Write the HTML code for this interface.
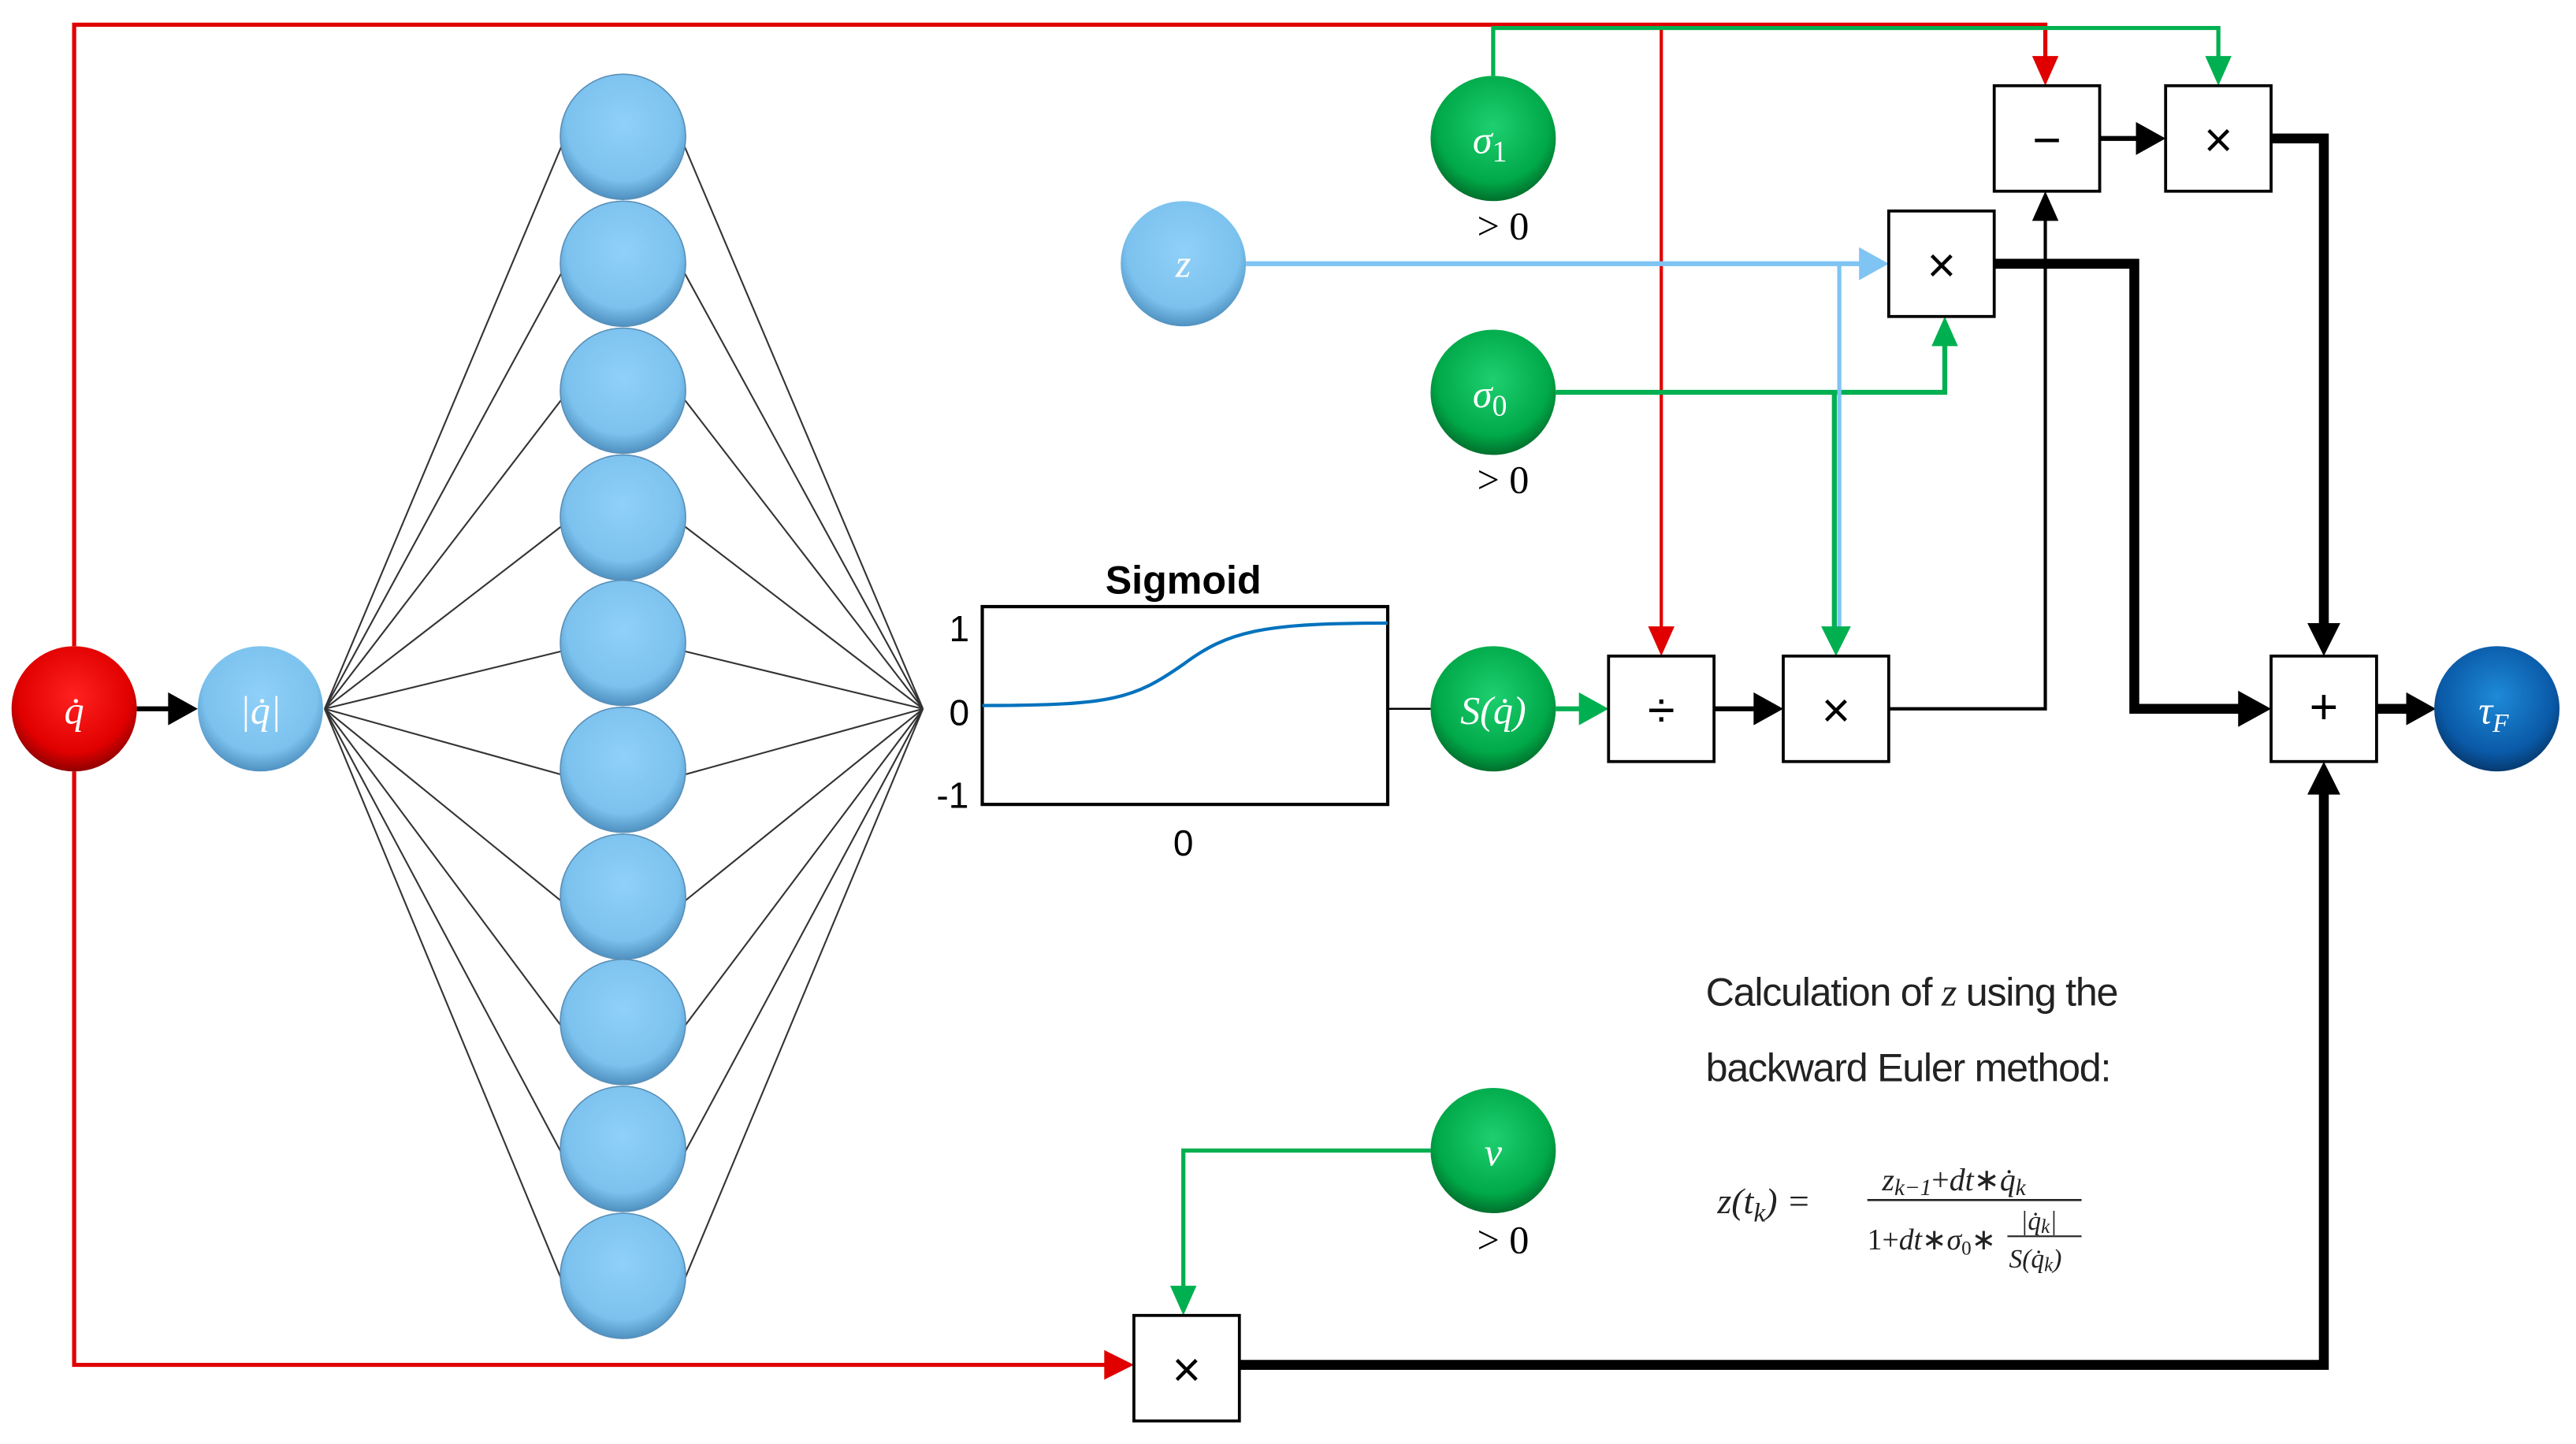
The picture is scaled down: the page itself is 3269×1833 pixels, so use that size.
<!DOCTYPE html>
<html><head><meta charset="utf-8"><style>
html,body{margin:0;padding:0;background:#fff;}
svg{display:block;}
</style></head><body>
<svg width="3269" height="1833" viewBox="0 0 1563 876" preserveAspectRatio="none" xmlns="http://www.w3.org/2000/svg">
<defs>
<radialGradient id="gb" cx="50%" cy="40%" r="60%"><stop offset="0" stop-color="#8fd0f8"/><stop offset="0.75" stop-color="#7cc2ee"/><stop offset="1" stop-color="#4f90c0"/></radialGradient>
<radialGradient id="gg" cx="50%" cy="40%" r="60%"><stop offset="0" stop-color="#1ed070"/><stop offset="0.75" stop-color="#00a848"/><stop offset="1" stop-color="#006f2c"/></radialGradient>
<radialGradient id="gr" cx="50%" cy="40%" r="60%"><stop offset="0" stop-color="#ff2020"/><stop offset="0.75" stop-color="#e00000"/><stop offset="1" stop-color="#900000"/></radialGradient>
<radialGradient id="gd" cx="50%" cy="40%" r="60%"><stop offset="0" stop-color="#1e8ad8"/><stop offset="0.75" stop-color="#0a5aa8"/><stop offset="1" stop-color="#063a70"/></radialGradient>
</defs>
<g fill="none" stroke-linejoin="miter">
<polyline points="45,392 45,15 1241,15 1241,40" stroke="#e00000" stroke-width="2.5"/>
<polyline points="1008,15 1008,384" stroke="#e00000" stroke-width="2"/>
<polyline points="45,468 45,828 674,828" stroke="#e00000" stroke-width="2.5"/>
<polyline points="906,46 906,17 1346,17 1346,40" stroke="#00b050" stroke-width="2.5"/>
<polyline points="944,238 1180,238 1180,206" stroke="#00b050" stroke-width="3"/>
<polyline points="1113,238 1113,384" stroke="#00b050" stroke-width="3"/>
<polyline points="868,698 718,698 718,784" stroke="#00b050" stroke-width="2.5"/>
<polyline points="944,430 962,430" stroke="#00b050" stroke-width="3"/>
<polyline points="756,160 1132,160" stroke="#7fc4f2" stroke-width="3"/>
<polyline points="1116,160 1116,392" stroke="#7fc4f2" stroke-width="2.5"/>
<polyline points="83,430 106,430" stroke="#000" stroke-width="3"/>
<polyline points="1040,430 1068,430" stroke="#000" stroke-width="3"/>
<polyline points="1146,430 1241,430 1241,130" stroke="#000" stroke-width="2"/>
<polyline points="1274,84 1300,84" stroke="#000" stroke-width="3"/>
<polyline points="842,430 870,430" stroke="#000" stroke-width="1.2"/>
<polyline points="1378,84 1410,84 1410,380" stroke="#000" stroke-width="6"/>
<polyline points="1210,160 1295,160 1295,430 1362,430" stroke="#000" stroke-width="6"/>
<polyline points="752,828 1410,828 1410,480" stroke="#000" stroke-width="6"/>
<polyline points="1442,430 1464,430" stroke="#000" stroke-width="6"/>
</g>
<g fill="#e00000">
<polygon points="1233,34 1249,34 1241,52"/><polygon points="1000,380 1016,380 1008,398"/><polygon points="670,819 670,837 688,828"/>
</g>
<g fill="#00b050">
<polygon points="1338,34 1354,34 1346,52"/><polygon points="1172,210 1188,210 1180,192"/><polygon points="1105,380 1123,380 1114,398"/><polygon points="710,780 726,780 718,798"/><polygon points="958,420 958,440 976,430"/>
</g>
<polygon fill="#7fc4f2" points="1128,150 1128,170 1146,160"/>
<g fill="#000">
<polygon points="102,420 102,440 120,430"/><polygon points="1064,420 1064,440 1082,430"/><polygon points="1233,134 1249,134 1241,116"/><polygon points="1296,74 1296,94 1314,84"/>
<polygon points="1400,378 1420,378 1410,398"/><polygon points="1358,419 1358,441 1378,430"/><polygon points="1400,482 1420,482 1410,462"/><polygon points="1460,420 1460,440 1478,430"/>
</g>
<g stroke="#333" stroke-width="1">
<line x1="197" y1="430" x2="341" y2="88"/><line x1="197" y1="430" x2="341" y2="165"/><line x1="197" y1="430" x2="341" y2="242"/><line x1="197" y1="430" x2="341" y2="319"/><line x1="197" y1="430" x2="341" y2="395"/><line x1="197" y1="430" x2="341" y2="470"/><line x1="197" y1="430" x2="341" y2="547"/><line x1="197" y1="430" x2="341" y2="623"/><line x1="197" y1="430" x2="341" y2="700"/><line x1="197" y1="430" x2="341" y2="777"/>
<line x1="560" y1="430" x2="415" y2="88"/><line x1="560" y1="430" x2="415" y2="165"/><line x1="560" y1="430" x2="415" y2="242"/><line x1="560" y1="430" x2="415" y2="319"/><line x1="560" y1="430" x2="415" y2="395"/><line x1="560" y1="430" x2="415" y2="470"/><line x1="560" y1="430" x2="415" y2="547"/><line x1="560" y1="430" x2="415" y2="623"/><line x1="560" y1="430" x2="415" y2="700"/><line x1="560" y1="430" x2="415" y2="777"/>
</g>
<g fill="url(#gb)" stroke="#5a90b8" stroke-width="0.8">
<ellipse cx="378" cy="83" rx="38" ry="38"/><ellipse cx="378" cy="160" rx="38" ry="38"/><ellipse cx="378" cy="237" rx="38" ry="38"/><ellipse cx="378" cy="314" rx="38" ry="38"/><ellipse cx="378" cy="390" rx="38" ry="38"/><ellipse cx="378" cy="467" rx="38" ry="38"/><ellipse cx="378" cy="544" rx="38" ry="38"/><ellipse cx="378" cy="620" rx="38" ry="38"/><ellipse cx="378" cy="697" rx="38" ry="38"/><ellipse cx="378" cy="774" rx="38" ry="38"/>
</g>
<ellipse cx="45" cy="430" rx="38" ry="38" fill="url(#gr)"/>
<ellipse cx="158" cy="430" rx="38" ry="38" fill="url(#gb)"/>
<ellipse cx="718" cy="160" rx="38" ry="38" fill="url(#gb)"/>
<ellipse cx="906" cy="84" rx="38" ry="38" fill="url(#gg)"/>
<ellipse cx="906" cy="238" rx="38" ry="38" fill="url(#gg)"/>
<ellipse cx="906" cy="430" rx="38" ry="38" fill="url(#gg)"/>
<ellipse cx="906" cy="698" rx="38" ry="38" fill="url(#gg)"/>
<ellipse cx="1515" cy="430" rx="38" ry="38" fill="url(#gd)"/>
<g fill="#fff" font-family="Liberation Serif, serif" font-style="italic" font-size="24" text-anchor="middle">
<text x="45" y="439">q̇</text><text x="158" y="439">|q̇|</text><text x="718" y="168">z</text>
<text x="904" y="93">σ<tspan font-size="18" font-style="normal" dy="5">1</tspan></text>
<text x="904" y="247">σ<tspan font-size="18" font-style="normal" dy="5">0</tspan></text>
<text x="906" y="439">S(q̇)</text><text x="906" y="707">ν</text>
<text x="1513" y="439">τ<tspan font-size="16" dy="5">F</tspan></text>
</g>
<g fill="#000" font-family="Liberation Serif, serif" font-size="24" text-anchor="middle">
<text x="912" y="145">&gt; 0</text><text x="912" y="299">&gt; 0</text><text x="912" y="760">&gt; 0</text>
</g>
<g fill="#fff" stroke="#000" stroke-width="1.8">
<rect x="1210" y="52" width="64" height="64"/><rect x="1314" y="52" width="64" height="64"/><rect x="1146" y="128" width="64" height="64"/>
<rect x="976" y="398" width="64" height="64"/><rect x="1082" y="398" width="64" height="64"/><rect x="1378" y="398" width="64" height="64"/>
<rect x="688" y="798" width="64" height="64"/>
</g>
<g fill="#000" font-family="Liberation Sans, sans-serif" font-size="30" text-anchor="middle">
<text x="1242" y="95">−</text><text x="1346" y="95">×</text><text x="1178" y="171">×</text>
<text x="1008" y="441">÷</text><text x="1114" y="441">×</text><text x="1410" y="439">+</text><text x="720" y="841">×</text>
</g>
<rect x="596" y="368" width="246" height="120" fill="#fff" stroke="#000" stroke-width="2"/>
<path d="M596,428 C675,428 688,424 718,403 C745,383 765,378 842,378" fill="none" stroke="#0072bd" stroke-width="2"/>
<g fill="#000" font-family="Liberation Sans, sans-serif" text-anchor="middle">
<text x="718" y="360" font-size="24" font-weight="bold">Sigmoid</text>
<text x="582" y="389" font-size="22">1</text><text x="582" y="440" font-size="22">0</text><text x="578" y="490" font-size="22">-1</text>
<text x="718" y="519" font-size="22">0</text>
</g>
<g fill="#222" font-family="Liberation Sans, sans-serif" font-size="24" letter-spacing="-0.6">
<text x="1035" y="610">Calculation of <tspan font-family="Liberation Serif, serif" font-style="italic">z</tspan> using the</text>
<text x="1035" y="656">backward Euler method:</text>
</g>
<g fill="#222" font-family="Liberation Serif, serif" font-style="italic">
<text x="1042" y="736" font-size="22">z(t<tspan font-size="16" dy="5">k</tspan><tspan dy="-5">) =</tspan></text>
<text x="1142" y="722" font-size="19">z<tspan font-size="14" dy="3">k−1</tspan><tspan dy="-3" font-style="normal">+</tspan><tspan>dt</tspan><tspan font-style="normal">∗</tspan>q̇<tspan font-size="14" dy="3">k</tspan></text>
<line x1="1133" y1="728" x2="1263" y2="728" stroke="#222" stroke-width="1.2"/>
<text x="1133" y="758" font-size="18" font-style="normal">1+<tspan font-style="italic">dt</tspan>∗<tspan font-style="italic">σ</tspan><tspan font-size="12" dy="3">0</tspan><tspan dy="-3">∗</tspan></text>
<text x="1226" y="746" font-size="16">|q̇<tspan font-size="12" dy="2">k</tspan><tspan dy="-2">|</tspan></text>
<line x1="1218" y1="750" x2="1263" y2="750" stroke="#222" stroke-width="1"/>
<text x="1219" y="769" font-size="16">S(q̇<tspan font-size="12" dy="2">k</tspan><tspan dy="-2">)</tspan></text>
</g>
</svg>
</body></html>
